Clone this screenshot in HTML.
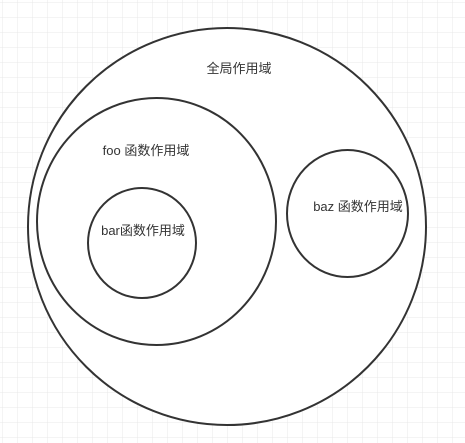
<!DOCTYPE html>
<html><head><meta charset="utf-8"><style>
html,body{margin:0;padding:0;background:#fff;}
svg{display:block;}
text{font-family:"Liberation Sans","Noto Sans CJK SC",sans-serif;font-size:13px;fill:#333;}
</style></head><body>
<svg width="465" height="443" viewBox="0 0 465 443" xmlns="http://www.w3.org/2000/svg">
<defs>
<pattern id="g" x="2" y="2" width="15" height="15" patternUnits="userSpaceOnUse">
<path d="M0 0H15M0 0V15" stroke="#e8e8e8" stroke-width="1" fill="none"/>
</pattern>
</defs>
<rect width="465" height="443" fill="url(#g)"/>
<ellipse cx="227" cy="226.5" rx="199" ry="198.5" fill="#fff" stroke="#333" stroke-width="2"/>
<ellipse cx="156.5" cy="221.5" rx="119.5" ry="123.5" fill="#fff" stroke="#333" stroke-width="2"/>
<ellipse cx="142" cy="243" rx="54" ry="55" fill="#fff" stroke="#333" stroke-width="2"/>
<ellipse cx="347.5" cy="213.5" rx="60.5" ry="63.5" fill="#fff" stroke="#333" stroke-width="2"/>
<text x="239" y="73" text-anchor="middle">全局作用域</text>
<text x="146" y="155" text-anchor="middle">foo 函数作用域</text>
<text x="143" y="235" text-anchor="middle">bar函数作用域</text>
<text x="358" y="211" text-anchor="middle">baz 函数作用域</text>
</svg>
</body></html>
